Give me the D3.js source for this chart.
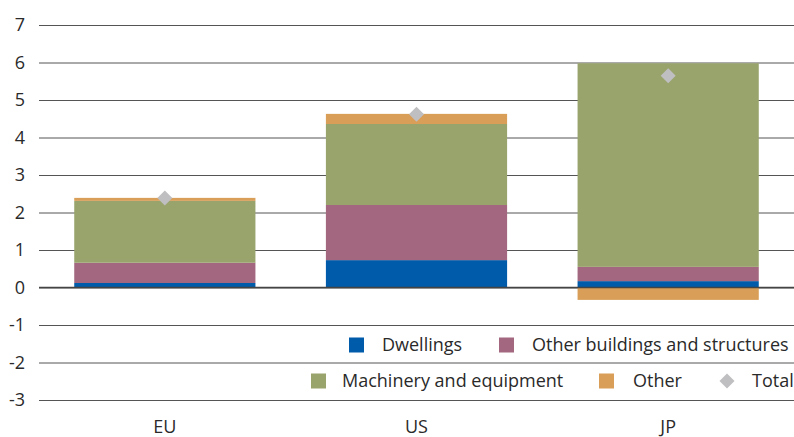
<!DOCTYPE html>
<html>
<head>
<meta charset="utf-8">
<script src="https://cdn.jsdelivr.net/npm/d3@7"></script>
<style>
  html, body { margin: 0; padding: 0; background: #fff; }
  svg text { font-family: "Open Sans", "Noto Sans", sans-serif; fill: #2a2a2a; }
</style>
</head>
<body>
<svg id="chart" width="794" height="437"></svg>
<script>
const categories = ["EU", "US", "JP"];
const seriesNames = ["Dwellings", "Other buildings and structures", "Machinery and equipment", "Other"];
const dwellings = [0.12, 0.73, 0.17];
const otherBuildings = [0.54, 1.47, 0.38];
const machinery = [1.65, 2.16, 5.43];
const other = [0.08, 0.27, -0.33];
const total = [2.39, 4.62, 5.65];
const yTicks = [-3, -2, -1, 0, 1, 2, 3, 4, 5, 6, 7];
const yTickLabels = ["-3", "-2", "-1", "0", "1", "2", "3", "4", "5", "6", "7"];
const colors = ["#005baa", "#a3687f", "#99a46c", "#d99e57"];
const totalColor = "#bfbfc1";

const series = [dwellings, otherBuildings, machinery, other];
const W = 794, H = 437;
const margin = {left: 39, right: 0, top: 25, bottom: 37};
const svg = d3.select("#chart");

const x = d3.scaleBand().domain(categories)
  .range([margin.left, W - margin.right]).paddingInner(0.28).paddingOuter(0.14);
const y = d3.scaleLinear().domain([-3, 7]).range([H - margin.bottom, margin.top]);

// gridlines + y labels
const yAxis = d3.axisLeft(y).tickValues(yTicks).tickSize(-(W - margin.left - margin.right)).tickPadding(14)
  .tickFormat((d, i) => yTickLabels[i]);
const gy = svg.append("g").attr("transform", `translate(${margin.left},0)`).call(yAxis);
gy.select(".domain").remove();
gy.selectAll(".tick line").attr("stroke", "#555").attr("stroke-width", 1);
gy.selectAll(".tick text").attr("font-size", 18).attr("fill", "#2a2a2a").style("font-family", "'Open Sans', sans-serif");

// stacked bars (positive and negative stacked separately)
const rows = categories.map((c, i) => {
  const o = {cat: c};
  seriesNames.forEach((s, j) => o[s] = series[j][i]);
  return o;
});
const stack = d3.stack().keys(seriesNames).offset(d3.stackOffsetDiverging);
const stacked = stack(rows);

const gBars = svg.append("g");
stacked.forEach((layer, j) => {
  gBars.selectAll(null).data(layer).join("rect")
    .attr("x", d => x(d.data.cat))
    .attr("width", x.bandwidth())
    .attr("y", d => y(Math.max(d[0], d[1])))
    .attr("height", d => Math.abs(y(d[0]) - y(d[1])))
    .attr("fill", colors[j]);
});

// zero line on top
svg.append("line").attr("x1", margin.left).attr("x2", W - margin.right)
  .attr("y1", y(0)).attr("y2", y(0)).attr("stroke", "#444").attr("stroke-width", 1.5);

// totals diamonds
const diamond = (r) => `M0,${-r}L${r},0L0,${r}L${-r},0Z`;
svg.append("g").selectAll("path").data(total).join("path")
  .attr("d", diamond(7.5))
  .attr("transform", (d, i) => `translate(${x(categories[i]) + x.bandwidth() / 2},${y(d)})`)
  .attr("fill", totalColor);

// x labels
svg.append("g").selectAll("text").data(categories).join("text")
  .attr("x", d => x(d) + x.bandwidth() / 2)
  .attr("y", 433)
  .attr("text-anchor", "middle")
  .attr("font-size", 18)
  .text(d => d);

// legend
const legendItems = [
  {name: seriesNames[0], color: colors[0], sx: 349, tx: 382, cy: 345},
  {name: seriesNames[1], color: colors[1], sx: 499, tx: 532, cy: 345},
  {name: seriesNames[2], color: colors[2], sx: 311, tx: 342, cy: 381},
  {name: seriesNames[3], color: colors[3], sx: 599, tx: 633, cy: 381}
];
const lg = svg.append("g");
legendItems.forEach(it => {
  lg.append("rect").attr("x", it.sx).attr("y", it.cy - 7.5).attr("width", 15).attr("height", 15).attr("fill", it.color);
  lg.append("text").attr("x", it.tx).attr("y", it.cy).attr("dy", "0.35em").attr("font-size", 18).text(it.name);
});
lg.append("path").attr("d", diamond(7.5)).attr("transform", "translate(727,381)").attr("fill", totalColor);
lg.append("text").attr("x", 752).attr("y", 381).attr("dy", "0.35em").attr("font-size", 18).text("Total");
</script>
</body>
</html>
